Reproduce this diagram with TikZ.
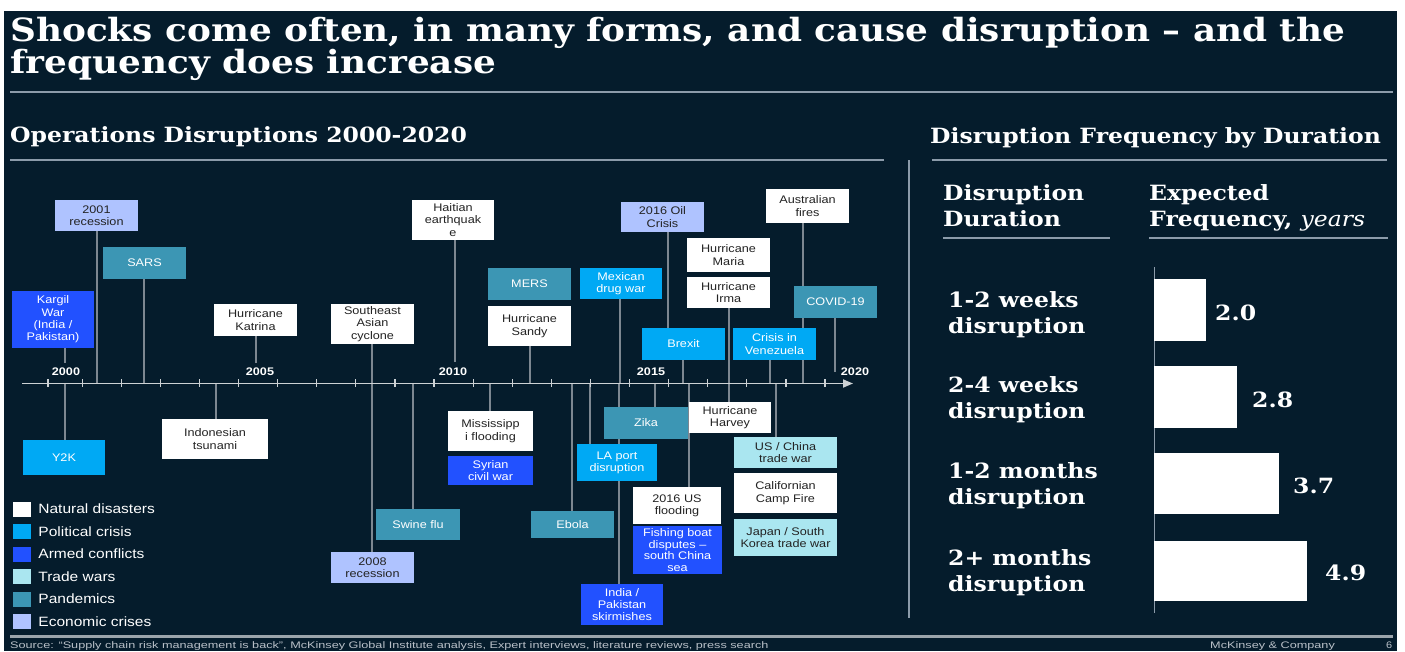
\documentclass[tikz,border=0pt]{standalone}
\usepackage{fontspec}
\setmainfont[FakeStretch=1.12]{DejaVu Serif}
\setsansfont[FakeStretch=1.15]{Liberation Sans}
\usetikzlibrary{arrows.meta,positioning,backgrounds}
\definecolor{mcnavy}{RGB}{5,28,44}
\definecolor{mcsky}{RGB}{0,169,244}
\definecolor{mcblue}{RGB}{34,81,255}
\definecolor{mcpale}{RGB}{170,230,240}
\definecolor{mcteal}{RGB}{60,150,180}
\definecolor{mclav}{RGB}{175,195,255}
\definecolor{mcink}{RGB}{35,35,35}
\definecolor{mcrule}{RGB}{140,155,170}
\definecolor{mcstem}{RGB}{125,135,145}
\definecolor{mcfoot}{RGB}{185,192,200}

\begin{document}
\begin{tikzpicture}[x=1pt, y=-1pt,
  evbox/.style={minimum width=83, minimum height=32, inner sep=1pt, align=center,
    font=\sffamily\fontsize{11}{12.3}\selectfont},
  nat/.style={evbox, fill=white, text=mcink},
  pol/.style={evbox, fill=mcsky, text=white},
  arm/.style={evbox, fill=mcblue, text=white},
  trade/.style={evbox, fill=mcpale, text=mcink},
  pan/.style={evbox, fill=mcteal, text=white},
  econ/.style={evbox, fill=mclav, text=mcink},
  stem/.style={mcstem, line width=1.4pt},
  axtick/.style={white!80!mcnavy, line width=1.2pt},
  yearlbl/.style={font=\sffamily\bfseries\fontsize{11}{12}\selectfont, white, inner sep=0pt},
  legsq/.style={minimum width=18, minimum height=15, inner sep=0pt},
  legtxt/.style={font=\sffamily\fontsize{13.5}{15}\selectfont, white, inner sep=0pt},
  hrule/.style={mcrule, line width=1.6pt},
  head/.style={font=\bfseries\fontsize{21}{24}\selectfont, white, inner sep=0pt, anchor=base west},
  rowlbl/.style={font=\bfseries\fontsize{21}{26}\selectfont, white, align=left, inner sep=0pt, anchor=north west},
  val/.style={font=\bfseries\fontsize{21}{24}\selectfont, white, inner sep=0pt, anchor=west},
  foot/.style={font=\sffamily\fontsize{9.5}{11}\selectfont, mcfoot, inner sep=0pt, anchor=base west}]
\useasboundingbox (0,0) rectangle (1405,651);
\begin{scope}[on background layer]
\fill[white] (0,0) rectangle (1405,651);
\fill[mcnavy] (4,11) rectangle (1397,651);
\end{scope}

% -- Headings and rules --
\node[anchor=west, align=left, inner sep=0pt, white, font=\bfseries\fontsize{32}{32}\selectfont] (ttl) at (10,48.5)
  {Shocks come often, in many forms, and cause disruption – and the\\frequency does increase};
\draw[hrule] (10,92) -- (1393,92);
\node[head] (hdops) at (10,142) {Operations Disruptions 2000-2020};
\node[head] (hdfreq) at (930,143) {Disruption Frequency by Duration};
\draw[hrule] (10,160) -- (884,160);
\draw[hrule] (932,160) -- (1387,160);
\draw[hrule] (909,160) -- (909,618);

% -- Timeline axis --
\coordinate (axL) at (22,383.5);
\coordinate (axR) at (853,383.5);
\draw[white!80!mcnavy, line width=1.8pt, -{Triangle[length=10pt,width=8pt]}] (axL) -- (axR);
\draw[axtick] (48,379) -- ++(0,8);
\foreach \k in {1,...,20}
  \draw[axtick] ({43+39.1*\k},379) -- ++(0,8);
\node[yearlbl] (y2000) at (66,372) {2000};
\node[yearlbl] (y2005) at (260,372) {2005};
\node[yearlbl] (y2010) at (453,372) {2010};
\node[yearlbl] (y2015) at (651,372) {2015};
\node[yearlbl] (y2020) at (855,372) {2020};

% -- Events above the axis --
\node[econ, minimum height=31] (rec01) at (96.5,215.5) {2001\\recession};
\node[pan] (sars) at (144.5,263) {SARS};
\node[arm, minimum width=82, minimum height=57] (kargil) at (53,319.5) {Kargil\\War\\(India /\\Pakistan)};
\node[nat] (katrina) at (255.5,320) {Hurricane\\Katrina};
\node[nat, minimum height=40] (cyclone) at (372.5,324) {Southeast\\Asian\\cyclone};
\node[nat, minimum width=82, minimum height=40] (haiti) at (453,220) {Haitian\\earthquak\\e};
\node[pan] (mers) at (529.5,284) {MERS};
\node[nat, minimum height=40] (sandy) at (529.5,326) {Hurricane\\Sandy};
\node[pol, minimum width=82, minimum height=31] (mexico) at (621,283.5) {Mexican\\drug war};
\node[econ, minimum height=30] (oil) at (662.5,217) {2016 Oil\\Crisis};
\node[pol] (brexit) at (683.5,344) {Brexit};
\node[nat, minimum height=34] (maria) at (728.5,255) {Hurricane\\Maria};
\node[nat, minimum height=31] (irma) at (728.5,292.5) {Hurricane\\Irma};
\node[pol] (venez) at (774.5,344) {Crisis in\\Venezuela};
\node[nat, minimum height=34] (fires) at (807.5,206) {Australian\\fires};
\node[pan] (covid) at (835.5,302) {COVID-19};

% -- Events below the axis --
\node[pol, minimum width=82, minimum height=35] (y2k) at (64,457.5) {Y2K};
\node[nat, minimum width=106, minimum height=40] (tsunami) at (215,439) {Indonesian\\tsunami};
\node[pan, minimum width=84, minimum height=31] (swine) at (418,524.5) {Swine flu};
\node[econ, minimum height=31] (rec08) at (372.5,567.5) {2008\\recession};
\node[nat, minimum width=85, minimum height=40] (missi) at (490.5,431) {Mississipp\\i flooding};
\node[arm, minimum width=85, minimum height=29] (syria) at (490.5,470.5) {Syrian\\civil war};
\node[pan, minimum width=84] (zika) at (646,423) {Zika};
\node[nat, minimum width=82, minimum height=31] (harvey) at (730,417.5) {Hurricane\\Harvey};
\node[pol, minimum width=80, minimum height=37] (laport) at (617,462.5) {LA port\\disruption};
\node[pan, minimum height=27] (ebola) at (572.5,524.5) {Ebola};
\node[nat, minimum width=88, minimum height=37] (usflood) at (677,505.5) {2016 US\\flooding};
\node[arm, minimum width=89, minimum height=48, font=\sffamily\fontsize{11}{11.5}\selectfont] (fishing) at (677.5,550) {Fishing boat\\disputes –\\south China\\sea};
\node[arm, minimum width=82, minimum height=41] (indpak) at (622,604.5) {India /\\Pakistan\\skirmishes};
\node[trade, minimum width=103, minimum height=31] (uschina) at (785.5,452.5) {US / China\\trade war};
\node[nat, minimum width=103, minimum height=40] (campfire) at (785.5,493) {Californian\\Camp Fire};
\node[trade, minimum width=103, minimum height=37] (japan) at (785.5,537.5) {Japan / South\\Korea trade war};

% stems run behind the boxes
\begin{scope}[on background layer]
\foreach \n/\x/\y in {rec01/97/383, sars/144/383, kargil/65/363, katrina/256/363,
    cyclone/372/383, haiti/455/362, sandy/530/383, mexico/620/383, oil/668/344,
    brexit/683/383, irma/729/383, venez/770/383, fires/803/383, covid/835/372,
    y2k/65/383, tsunami/216/383, swine/413/383, rec08/372/383, missi/490/383,
    zika/655/383, harvey/729/383, laport/590/383, ebola/572/383, usflood/689/383,
    indpak/619/383, uschina/776/383}
  {\coordinate (s-\n) at (\x,\y);
   \draw[stem] (s-\n) -- (s-\n |- \n.center);}
\end{scope}

% -- Legend --
\foreach \c/\t [count=\i] in {white/Natural disasters, mcsky/Political crisis,
    mcblue/Armed conflicts, mcpale/Trade wars, mcteal/Pandemics, mclav/Economic crises}
  {\node[legsq, fill=\c] (lg\i) at (22,{486.5+22.5*\i}) {};
   \node[legtxt, right=7pt of lg\i] (lt\i) {\t};}

% -- Right: frequency by duration --
\node[rowlbl] (hddur) at (943,184) {Disruption\\Duration};
\node[rowlbl] (hdexp) at (1149,184) {Expected\\Frequency, {\mdseries\itshape years}};
\draw[hrule] (943,238) -- (1110,238);
\draw[hrule] (1149,238) -- (1388,238);
\draw[mcrule, line width=1pt] (1154,267) -- (1154,613);
\fill[white] (1154,279) rectangle (1206,341);
\fill[white] (1154,366) rectangle (1237,428);
\fill[white] (1154,453) rectangle (1279,514);
\fill[white] (1154,541) rectangle (1307,601);
\node[rowlbl] (r1) at (948,291) {1-2 weeks\\disruption};
\node[rowlbl] (r2) at (948,376) {2-4 weeks\\disruption};
\node[rowlbl] (r3) at (948,462) {1-2 months\\disruption};
\node[rowlbl] (r4) at (948,549) {2+ months\\disruption};
\node[val] (v1) at (1215,313) {2.0};
\node[val] (v2) at (1252,400) {2.8};
\node[val] (v3) at (1293,486) {3.7};
\node[val] (v4) at (1325,573) {4.9};

% -- Footer --
\draw[white!60!mcnavy, line width=3pt] (10,636) -- (1393,636);
\node[foot] (src) at (10,648) {\scalebox{1.16}[1]{Source: “Supply chain risk management is back”, McKinsey Global Institute analysis, Expert interviews, literature reviews, press search}};
\node[foot] (mck) at (1210,648) {\scalebox{1.16}[1]{McKinsey \& Company}};
\node[foot] (pg) at (1386,648) {6};
\end{tikzpicture}
\end{document}
